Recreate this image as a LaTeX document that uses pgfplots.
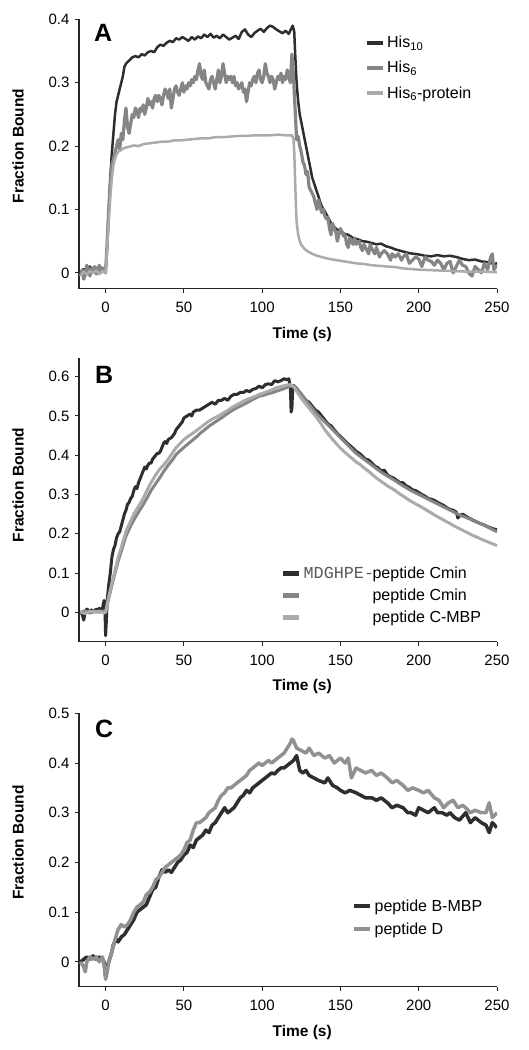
\documentclass[border=0pt]{standalone}
\usepackage{fontspec}
\setmainfont{Liberation Sans}
\newfontfamily\monofont{Liberation Mono}
\usepackage{pgfplots}
\pgfplotsset{compat=1.18}
\definecolor{cdark}{HTML}{2E2E2E}
\definecolor{cmed}{HTML}{858585}
\definecolor{clight}{HTML}{ABABAB}
\tikzset{lab/.style={font=\bfseries\fontsize{15.5}{18}\selectfont, anchor=center}}
\pgfplotsset{
  panel/.style={
    scale only axis, width=418pt,
    axis lines=left, axis line style={-, line width=1.2pt, black!85},
    xmin=-17, xmax=250, xtick={0,50,...,250},
    tick align=outside, major tick length=4pt,
    tick style={line width=1pt, black!85},
    ticklabel style={font=\fontsize{15}{17}\selectfont},
    xticklabel shift=6pt, yticklabel shift=2pt,
    /pgf/number format/assume math mode=true,
    yticklabel style={/pgf/number format/fixed, /pgf/number format/precision=1},
    xlabel={Time (s)}, ylabel={Fraction Bound},
    legend style={draw=none, fill=none, anchor=north west, font=\fontsize{16}{18}\selectfont, inner sep=0pt},
    legend cell align=left,
    legend image code/.code={\draw[#1, line width=4.5pt, line cap=butt] (0pt,0pt) -- (16pt,0pt);},
    every axis plot/.append style={line join=round},
  },
}
\begin{document}
\begin{tikzpicture}
\useasboundingbox (0,0) rectangle (529pt,1050pt);
% ---------------- Panel A
\begin{axis}[panel, at={(79pt,761.3pt)}, anchor=south west, height=269.4pt,
  ymin=-0.025, ymax=0.4, ytick={0,0.1,...,0.4},
  every axis x label/.style={lab, at={(axis description cs:0.534,-0.171)}},
  every axis y label/.style={lab, rotate=90, at={(axis description cs:-0.146,0.53)}},
  legend style={at={(axis description cs:0.683,0.945)}, row sep=8pt}]
\addplot[cdark, line width=2.5pt] coordinates {
(-16,0.000)(-14,0.006)(-12,0.002)(-10,0.010)(-8,0.004)(-6,0.008)(-4,0.003)(-2,0.007)(0,0.004)
(1,0.04)(2,0.10)(3,0.15)(4,0.19)(5,0.22)(6,0.25)(7,0.27)(8,0.28)(9,0.29)(10,0.30)(11,0.31)(12,0.325)(13,0.33)
(15,0.335)(17,0.34)(19,0.342)(21,0.340)(23,0.345)(25,0.343)(27,0.348)(29,0.350)(31,0.348)(33,0.356)(35,0.360)
(37,0.358)(39,0.363)(41,0.366)(43,0.364)(45,0.370)(47,0.368)(49,0.372)(51,0.369)(53,0.366)(55,0.372)(57,0.368)
(59,0.373)(61,0.370)(63,0.376)(65,0.372)(67,0.377)(69,0.371)(71,0.374)(73,0.370)(75,0.376)(77,0.372)(79,0.368)
(81,0.371)(83,0.374)(85,0.369)(87,0.380)(89,0.384)(91,0.376)(93,0.372)(95,0.378)(97,0.382)(99,0.385)(101,0.380)
(103,0.386)(105,0.390)(107,0.388)(109,0.384)(111,0.381)(113,0.378)(115,0.382)(117,0.377)(118.5,0.385)(119.5,0.390)
(120.5,0.380)(121,0.35)(122,0.30)(123,0.27)(124,0.25)(126,0.225)(128,0.20)(130,0.175)(132,0.15)(134,0.135)
(136,0.12)(138,0.105)(140,0.097)(142,0.088)(144,0.078)(146,0.072)(148,0.068)(150,0.066)(152,0.062)(155,0.060)
(158,0.055)(161,0.053)(164,0.050)(167,0.049)(170,0.047)(173,0.045)(176,0.046)(179,0.042)(182,0.040)(185,0.037)
(188,0.035)(191,0.033)(194,0.031)(197,0.030)(200,0.029)(204,0.027)(208,0.026)(212,0.028)(216,0.026)(220,0.027)
(224,0.025)(228,0.022)(232,0.020)(236,0.021)(240,0.018)(244,0.017)(248,0.014)(250,0.015)};
\addlegendentry{His\textsubscript{10}}
\addplot[cmed, line width=3.2pt] coordinates {
(-16,-0.005)(-15,0.005)(-14,-0.010)(-13,-0.002)(-12,0.012)(-11,0.003)(-10,-0.005)(-9,0.008)(-8,0.002)(-7,0.010)
(-6,-0.002)(-5,0.006)(-4,0.012)(-3,0.000)(-2,0.008)(-1,0.003)(0,0.000)(1,0.05)(2,0.10)(3,0.14)(4,0.17)(5,0.18)
(6,0.19)(7,0.20)(8,0.21)(9,0.195)(10,0.22)(11,0.21)(12,0.24)(13,0.26)(14,0.23)(15,0.22)(16,0.235)(17,0.25)
(18,0.245)(19,0.26)(20,0.255)(21,0.245)(22,0.26)(23,0.255)(24,0.265)(25,0.25)(26,0.26)(27,0.275)(28,0.265)
(29,0.27)(30,0.26)(31,0.275)(32,0.28)(33,0.27)(34,0.28)(35,0.275)(36,0.265)(37,0.28)(38,0.29)(39,0.285)(40,0.275)
(41,0.29)(42,0.26)(43,0.275)(44,0.29)(45,0.295)(46,0.285)(47,0.28)(48,0.29)(49,0.3)(50,0.285)(51,0.295)(52,0.29)
(53,0.3)(54,0.295)(55,0.305)(56,0.30)(57,0.31)(58,0.305)(59,0.32)(60,0.33)(61,0.31)(62,0.305)(63,0.32)(64,0.30)
(65,0.295)(66,0.29)(67,0.305)(68,0.31)(69,0.30)(70,0.29)(71,0.305)(72,0.32)(73,0.30)(74,0.31)(75,0.33)(76,0.315)
(77,0.30)(78,0.31)(79,0.305)(80,0.31)(81,0.30)(82,0.31)(83,0.295)(84,0.30)(85,0.29)(86,0.295)(87,0.30)(88,0.285)
(89,0.29)(90,0.27)(91,0.285)(92,0.30)(93,0.295)(94,0.305)(95,0.31)(96,0.30)(97,0.315)(98,0.32)(99,0.305)(100,0.30)
(101,0.31)(102,0.33)(103,0.315)(104,0.31)(105,0.30)(106,0.31)(107,0.305)(108,0.29)(109,0.30)(110,0.31)(111,0.305)
(112,0.315)(113,0.30)(114,0.31)(115,0.305)(116,0.32)(117,0.31)(118,0.30)(119,0.345)(120,0.31)(121,0.26)(122,0.21)
(123,0.215)(124,0.20)(125,0.19)(126,0.175)(127,0.17)(128,0.155)(129,0.16)(130,0.135)(131,0.13)(132,0.125)(133,0.12)
(134,0.11)(135,0.10)(136,0.115)(137,0.105)(138,0.095)(139,0.10)(140,0.09)(141,0.085)(142,0.088)(143,0.07)(144,0.06)
(145,0.078)(146,0.07)(147,0.065)(148,0.05)(149,0.06)(150,0.07)(151,0.065)(152,0.058)(153,0.06)(154,0.045)(155,0.04)
(156,0.055)(157,0.05)(158,0.045)(159,0.055)(160,0.045)(162,0.05)(163,0.04)(164,0.035)(165,0.045)(166,0.04)(168,0.03)
(169,0.045)(170,0.038)(172,0.03)(173,0.04)(175,0.025)(176,0.03)(178,0.035)(180,0.03)(182,0.02)(183,0.03)(185,0.025)
(187,0.03)(189,0.02)(190,0.025)(192,0.03)(194,0.015)(196,0.02)(198,0.025)(200,0.022)(202,0.01)(204,0.025)(206,0.02)
(208,0.018)(210,0.012)(212,0.02)(214,0.015)(216,0.005)(218,0.015)(220,0.018)(222,0.0)(224,0.01)(226,0.02)(228,0.012)
(230,0.01)(232,0.0)(234,-0.005)(236,0.01)(238,0.005)(240,0.0)(242,0.015)(244,0.005)(246,0.025)(247,0.03)(248,0.005)(250,0.012)};
\addlegendentry{His\textsubscript{6}}
\addplot[clight, line width=2.5pt] coordinates {
(-16,-0.005)(-14,0.002)(-12,-0.003)(-10,0.003)(-8,0.000)(-6,0.004)(-4,-0.002)(-2,0.003)(0,0.0)(1,0.04)(2,0.08)
(3,0.12)(4,0.15)(5,0.17)(6,0.18)(7,0.187)(8,0.191)(10,0.194)(12,0.197)(15,0.199)(18,0.201)(21,0.200)(24,0.203)
(27,0.204)(30,0.205)(33,0.206)(36,0.207)(40,0.207)(44,0.209)(48,0.209)(52,0.210)(56,0.211)(60,0.212)(65,0.212)
(70,0.214)(75,0.214)(80,0.215)(85,0.216)(90,0.216)(95,0.217)(100,0.217)(105,0.217)(110,0.218)(115,0.217)(119,0.217)
(120,0.212)(120.5,0.19)(121,0.15)(121.5,0.11)(122,0.08)(123,0.06)(124,0.05)(125,0.044)(127,0.038)(129,0.034)
(132,0.030)(135,0.027)(138,0.025)(141,0.023)(145,0.021)(150,0.019)(155,0.017)(160,0.015)(165,0.014)(170,0.012)
(175,0.011)(180,0.010)(185,0.009)(190,0.007)(195,0.006)(200,0.005)(210,0.004)(220,0.003)(230,0.002)(240,0.002)(250,0.001)};
\addlegendentry{His\textsubscript{6}-protein}
\node[font=\bfseries\fontsize{25}{28}\selectfont] at (axis cs:-1.5,0.378) {A};
\end{axis}
% ---------------- Panel B
\begin{axis}[panel, at={(79pt,408.3pt)}, anchor=south west, height=283.4pt,
  ymin=-0.075, ymax=0.647, ytick={0,0.1,...,0.6},
  every axis x label/.style={lab, at={(axis description cs:0.534,-0.159)}},
  every axis y label/.style={lab, rotate=90, at={(axis description cs:-0.146,0.553)}},
  legend style={at={(axis description cs:0.483,0.272)}, row sep=5pt}]
\addplot[cdark, line width=3pt] coordinates {
(-16,0.0)(-15,-0.005)(-14,-0.02)(-13,0.0)(-12,0.008)(-11,0.005)(-10,0.002)(-9,0.006)(-8,0.0)(-7,0.004)(-6,0.008)
(-5,0.006)(-4,0.01)(-3,0.004)(-2,0.01)(-1,0.03)(-0.5,0.02)(0,-0.06)(0.5,-0.02)(1,0.03)(2,0.07)(3,0.10)(4,0.14)
(5,0.16)(6,0.17)(7,0.19)(8,0.20)(9,0.205)(10,0.22)(11,0.235)(12,0.25)(13,0.26)(14,0.275)(15,0.28)(16,0.29)(17,0.295)
(18,0.31)(19,0.32)(20,0.315)(21,0.33)(22,0.34)(23,0.35)(24,0.36)(25,0.37)(26,0.365)(27,0.375)(28,0.38)(29,0.38)
(30,0.39)(31,0.395)(32,0.40)(33,0.405)(34,0.405)(35,0.41)(36,0.42)(37,0.43)(38,0.435)(39,0.43)(40,0.44)(42,0.445)
(44,0.455)(45,0.465)(46,0.47)(47,0.475)(48,0.48)(49,0.485)(50,0.495)(52,0.50)(54,0.505)(55,0.50)(56,0.51)(58,0.515)
(60,0.515)(62,0.52)(64,0.525)(66,0.53)(68,0.535)(70,0.53)(72,0.54)(74,0.54)(76,0.545)(78,0.54)(80,0.55)(82,0.555)
(84,0.555)(86,0.56)(88,0.56)(90,0.565)(92,0.562)(94,0.568)(96,0.57)(98,0.576)(100,0.572)(102,0.58)(104,0.582)
(106,0.58)(108,0.59)(110,0.587)(112,0.59)(114,0.595)(116,0.592)(117,0.595)(118,0.575)(118.5,0.51)(119,0.52)
(119.5,0.57)(120,0.578)(122,0.57)(124,0.56)(126,0.55)(128,0.54)(130,0.535)(132,0.525)(134,0.515)(136,0.51)
(138,0.50)(140,0.49)(142,0.48)(144,0.475)(146,0.465)(148,0.455)(150,0.448)(152,0.44)(154,0.432)(156,0.425)
(158,0.418)(160,0.41)(162,0.405)(164,0.398)(166,0.39)(168,0.388)(170,0.38)(172,0.372)(174,0.368)(176,0.36)
(178,0.362)(180,0.35)(182,0.345)(184,0.342)(186,0.336)(188,0.33)(190,0.33)(192,0.322)(194,0.318)(196,0.312)
(198,0.31)(200,0.305)(202,0.30)(204,0.296)(206,0.29)(208,0.288)(210,0.285)(212,0.28)(214,0.276)(216,0.272)
(218,0.266)(220,0.262)(222,0.26)(224,0.255)(225,0.24)(226,0.245)(228,0.25)(230,0.245)(232,0.24)(234,0.236)
(236,0.232)(238,0.228)(240,0.225)(242,0.222)(244,0.218)(246,0.215)(248,0.212)(250,0.21)};
\addlegendentry{\makebox[69pt][l]{\monofont\fontsize{16.8}{18}\selectfont\color{black!65}MDGHPE-}peptide Cmin}
\addplot[cmed, line width=3pt] coordinates {
(-16,0.0)(-13,0.004)(-10,-0.002)(-7,0.003)(-4,0.0)(-1,0.004)(0,0.0)(2,0.035)(5,0.085)(8,0.13)(10,0.155)(13,0.194)
(16,0.22)(18,0.235)(21,0.255)(24,0.274)(27,0.295)(29,0.31)(32,0.328)(34.5,0.342)(37,0.358)(40,0.375)(43,0.39)
(45,0.402)(48,0.413)(50,0.42)(53,0.43)(56,0.44)(59,0.45)(61,0.458)(64,0.467)(66,0.474)(69,0.482)(72,0.49)(75,0.498)
(77,0.504)(80,0.512)(82,0.517)(85,0.523)(88,0.529)(91,0.535)(93,0.54)(96,0.546)(98,0.55)(101,0.553)(104,0.557)
(107,0.56)(109,0.563)(112,0.567)(114,0.57)(116,0.573)(118,0.576)(120,0.576)(122,0.568)(125,0.555)(128,0.54)
(130,0.53)(133,0.515)(135,0.505)(138,0.493)(140,0.485)(143,0.473)(145,0.465)(148,0.453)(150,0.445)(153,0.433)
(155,0.425)(158,0.413)(160,0.405)(163,0.396)(165,0.39)(168,0.381)(170,0.375)(173,0.366)(175,0.36)(178,0.352)
(180,0.347)(183,0.34)(185,0.335)(188,0.327)(190,0.322)(193,0.315)(195,0.31)(198,0.304)(200,0.3)(203,0.294)
(205,0.29)(208,0.284)(210,0.28)(213,0.274)(215,0.27)(218,0.264)(220,0.26)(223,0.254)(225,0.25)(228,0.245)
(230,0.242)(233,0.237)(235,0.233)(238,0.228)(240,0.225)(243,0.219)(245,0.215)(248,0.209)(250,0.205)};
\addlegendentry{\hspace*{69pt}peptide Cmin}
\addplot[clight, line width=3pt] coordinates {
(-16,0.0)(-13,-0.003)(-10,0.003)(-7,0.0)(-4,0.003)(-1,-0.002)(0,0.0)(2,0.04)(5,0.09)(8,0.14)(10,0.165)(13,0.206)
(16,0.232)(18,0.25)(21,0.27)(24,0.29)(27,0.315)(29,0.33)(32,0.35)(34.5,0.364)(37,0.375)(40,0.39)(43,0.408)
(45,0.419)(48,0.432)(50,0.44)(53,0.449)(56,0.457)(59,0.466)(61,0.472)(64,0.481)(66,0.487)(69,0.494)(72,0.5)
(75,0.507)(77,0.512)(80,0.52)(82,0.525)(85,0.531)(88,0.538)(91,0.543)(93,0.546)(96,0.551)(98,0.555)(101,0.559)
(104,0.563)(107,0.568)(109,0.572)(112,0.575)(114,0.577)(116,0.579)(118,0.58)(120,0.575)(122,0.563)(125,0.545)
(128,0.53)(130,0.52)(133,0.505)(135,0.495)(138,0.478)(140,0.465)(143,0.45)(145,0.44)(148,0.427)(150,0.418)
(153,0.407)(155,0.4)(158,0.39)(160,0.383)(163,0.375)(165,0.368)(168,0.359)(170,0.352)(173,0.342)(175,0.336)
(178,0.328)(180,0.322)(183,0.315)(185,0.31)(188,0.301)(190,0.296)(193,0.288)(195,0.283)(198,0.276)(200,0.272)
(203,0.265)(205,0.26)(208,0.253)(210,0.248)(213,0.241)(215,0.237)(218,0.23)(220,0.226)(223,0.219)(225,0.215)
(228,0.209)(230,0.205)(233,0.199)(235,0.195)(238,0.19)(240,0.186)(243,0.181)(245,0.178)(248,0.173)(250,0.17)};
\addlegendentry{\hspace*{69pt}peptide C-MBP}
\node[font=\bfseries\fontsize{25}{28}\selectfont] at (axis cs:-1,0.605) {B};
\end{axis}
% ---------------- Panel C
\begin{axis}[panel, at={(79pt,63.3pt)}, anchor=south west, height=273.4pt,
  ymin=-0.05, ymax=0.5, ytick={0,0.1,...,0.5},
  every axis x label/.style={lab, at={(axis description cs:0.534,-0.168)}},
  every axis y label/.style={lab, rotate=90, at={(axis description cs:-0.146,0.527)}},
  legend style={at={(axis description cs:0.653,0.327)}, row sep=6pt}]
\addplot[cdark, line width=3.5pt] coordinates {
(-16,0.0)(-14,0.005)(-12,0.01)(-10,0.005)(-8,0.012)(-6,0.005)(-4,0.01)(-2,0.005)(-1,0.0)(0,-0.03)(1,-0.01)(2,0.0)
(4,0.02)(5,0.035)(7,0.045)(8,0.04)(10,0.05)(12,0.055)(14,0.065)(16,0.075)(18,0.085)(20,0.1)(22,0.105)(24,0.11)
(26,0.115)(28,0.13)(30,0.145)(32,0.15)(34,0.17)(36,0.185)(38,0.18)(40,0.185)(42,0.18)(44,0.19)(46,0.2)(48,0.205)
(50,0.215)(52,0.22)(54,0.235)(56,0.23)(58,0.245)(60,0.25)(62,0.255)(64,0.265)(66,0.26)(68,0.275)(70,0.28)(72,0.29)
(74,0.3)(76,0.31)(78,0.3)(80,0.305)(82,0.31)(84,0.32)(86,0.33)(88,0.335)(90,0.345)(92,0.34)(94,0.35)(96,0.355)
(98,0.36)(100,0.365)(102,0.37)(104,0.375)(106,0.38)(108,0.378)(110,0.385)(112,0.39)(114,0.39)(116,0.395)(118,0.4)
(120,0.405)(121,0.41)(122,0.415)(123,0.4)(124,0.385)(126,0.38)(128,0.385)(130,0.375)(133,0.37)(136,0.365)(140,0.36)
(142,0.37)(145,0.355)(148,0.35)(150,0.345)(153,0.34)(156,0.345)(160,0.34)(163,0.335)(166,0.33)(170,0.33)(173,0.325)
(176,0.33)(180,0.32)(183,0.31)(186,0.315)(190,0.31)(193,0.3)(195,0.3)(198,0.295)(200,0.31)(203,0.305)(206,0.3)
(210,0.31)(212,0.3)(215,0.3)(218,0.295)(220,0.3)(223,0.29)(226,0.285)(230,0.3)(233,0.28)(236,0.29)(240,0.28)
(243,0.275)(245,0.26)(247,0.28)(250,0.27)};
\addlegendentry{peptide B-MBP}
\addplot[cmed!90, line width=3.5pt] coordinates {
(-16,0.0)(-14,-0.01)(-13,-0.02)(-12,0.0)(-10,0.01)(-8,0.005)(-6,0.01)(-4,0.0)(-2,0.01)(-1,-0.005)(0,-0.035)
(1,-0.02)(2,0.0)(4,0.02)(6,0.045)(8,0.065)(10,0.075)(12,0.07)(14,0.075)(16,0.085)(18,0.1)(20,0.11)(22,0.115)
(24,0.12)(26,0.135)(28,0.14)(30,0.15)(32,0.165)(34,0.17)(36,0.18)(38,0.19)(40,0.195)(42,0.2)(44,0.205)(46,0.21)
(48,0.215)(50,0.225)(52,0.24)(54,0.245)(56,0.265)(58,0.28)(60,0.28)(62,0.285)(64,0.29)(66,0.3)(68,0.305)(70,0.31)
(72,0.325)(74,0.335)(76,0.34)(78,0.35)(80,0.35)(82,0.355)(84,0.36)(86,0.365)(88,0.37)(90,0.375)(92,0.385)(94,0.39)
(96,0.395)(98,0.4)(100,0.395)(102,0.4)(104,0.405)(106,0.4)(108,0.405)(110,0.41)(112,0.415)(114,0.42)(116,0.43)
(118,0.44)(119,0.448)(120,0.445)(122,0.43)(125,0.425)(128,0.42)(130,0.43)(133,0.415)(136,0.42)(140,0.41)(143,0.415)
(146,0.4)(150,0.41)(153,0.4)(155,0.41)(157,0.37)(160,0.39)(163,0.385)(166,0.38)(170,0.385)(173,0.375)(176,0.38)
(180,0.37)(183,0.36)(186,0.365)(190,0.355)(193,0.345)(196,0.35)(200,0.345)(203,0.34)(206,0.345)(210,0.33)(213,0.325)
(216,0.31)(219,0.32)(222,0.325)(225,0.31)(228,0.315)(230,0.31)(233,0.3)(236,0.305)(240,0.3)(243,0.3)(245,0.32)
(247,0.29)(250,0.3)};
\addlegendentry{peptide D}
\node[font=\bfseries\fontsize{25}{28}\selectfont] at (axis cs:-1,0.468) {C};
\end{axis}
\end{tikzpicture}
\end{document}
